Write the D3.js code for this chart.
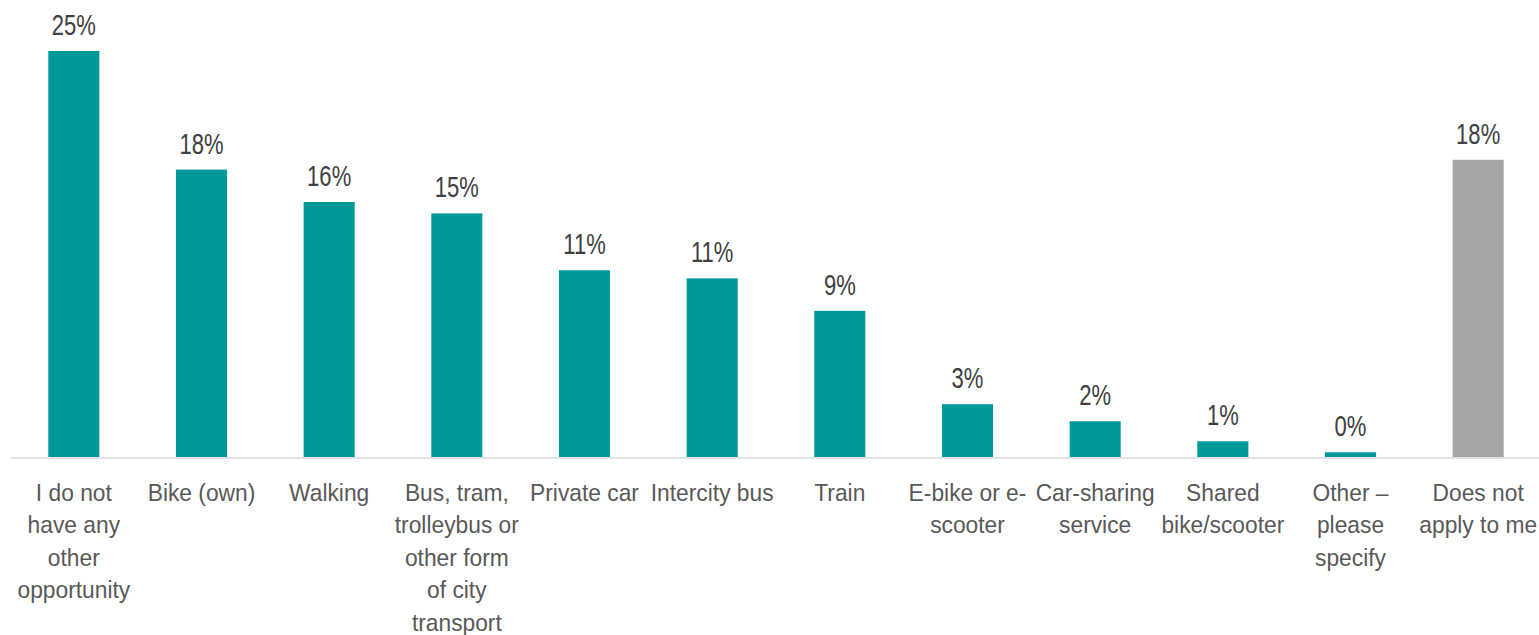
<!DOCTYPE html>
<html>
<head>
<meta charset="utf-8">
<script src="https://cdn.jsdelivr.net/npm/d3@7"></script>
<style>
  html, body { margin: 0; padding: 0; background: #ffffff; }
  svg { display: block; }
</style>
</head>
<body>
<svg id="chart" width="1539" height="635"></svg>
<script>
const categories = [
  ["I do not", "have any", "other", "opportunity"],
  ["Bike (own)"],
  ["Walking"],
  ["Bus, tram,", "trolleybus or", "other form", "of city", "transport"],
  ["Private car"],
  ["Intercity bus"],
  ["Train"],
  ["E-bike or e-", "scooter"],
  ["Car-sharing", "service"],
  ["Shared", "bike/scooter"],
  ["Other \u2013", "please", "specify"],
  ["Does not", "apply to me"]
];
const values = [25.0, 17.7, 15.7, 15.0, 11.5, 11.0, 9.0, 3.25, 2.2, 0.97, 0.29, 18.3];
const valueLabels = ["25%", "18%", "16%", "15%", "11%", "11%", "9%", "3%", "2%", "1%", "0%", "18%"];
const highlight = [false, false, false, false, false, false, false, false, false, false, false, true];

const svg = d3.select("#chart");
const ids = categories.map((c, i) => i);

const x = d3.scaleBand().domain(ids).range([10, 1542]).paddingInner(0.6).paddingOuter(0.3);
const y = d3.scaleLinear().domain([0, 25]).range([457, 51]);

// bars
svg.append("g").selectAll("rect").data(ids).join("rect")
  .attr("x", i => x(i))
  .attr("width", x.bandwidth())
  .attr("y", i => y(values[i]))
  .attr("height", i => y(0) - y(values[i]))
  .attr("fill", i => highlight[i] ? "#a5a5a5" : "#009999");

// axis line
const xAxis = d3.axisBottom(x).tickSize(0).tickFormat("");
const gx = svg.append("g").attr("transform", `translate(0,${y(0) + 0.5})`).call(xAxis);
gx.select(".domain").attr("stroke", "#d9d9d9").attr("stroke-width", 1.5);

// value labels
svg.append("g").selectAll("text").data(ids).join("text")
  .attr("transform", i => `translate(${x(i) + x.bandwidth() / 2},${y(values[i]) - 16}) scale(0.76,1)`)
  .attr("text-anchor", "middle")
  .attr("font-family", "'Liberation Sans', Arial, sans-serif")
  .attr("font-size", 29)
  .attr("fill", "#404040")
  .text(i => valueLabels[i]);

// category labels
const catG = svg.append("g").selectAll("text").data(ids).join("text")
  .attr("text-anchor", "middle")
  .attr("font-family", "'Liberation Sans', Arial, sans-serif")
  .attr("font-size", 24)
  .attr("fill", "#595959")
  .attr("transform", i => `translate(${x(i) + x.bandwidth() / 2},501) scale(0.95,1)`);
catG.selectAll("tspan").data(i => categories[i]).join("tspan")
  .attr("x", 0)
  .attr("y", (d, k) => k * 32.5)
  .text(d => d);
</script>
</body>
</html>
